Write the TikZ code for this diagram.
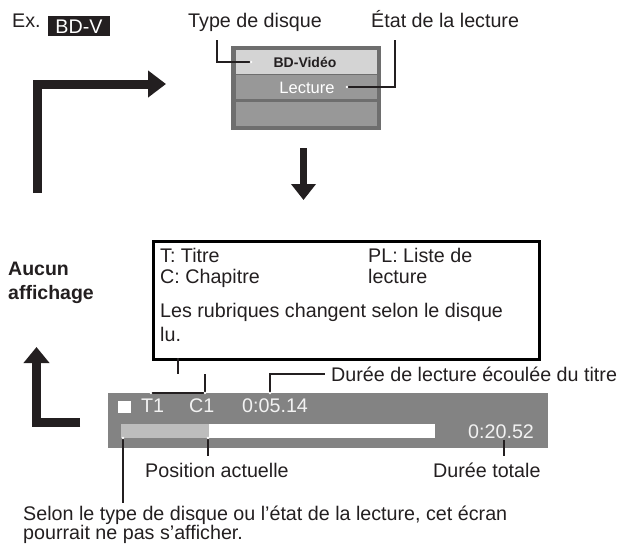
\documentclass[tikz,border=0pt]{standalone}
\usepackage{fontspec}
\setmainfont{Liberation Sans}
\usetikzlibrary{arrows.meta}
\definecolor{ink}{HTML}{231F20}
\definecolor{bargray}{HTML}{838383}
\definecolor{scrdark}{HTML}{6E6E6E}
\definecolor{scrmid}{HTML}{989898}
\definecolor{scrlight}{HTML}{D4D4D4}
\definecolor{progl}{HTML}{BDBDBD}
\definecolor{bartext}{HTML}{F2F2F2}
\begin{document}
\begin{tikzpicture}[x=1pt,y=-1pt,
  lbl/.style={inner sep=0pt, anchor=base west, font=\fontsize{19.7}{21}\selectfont, text=ink},
  bold lbl/.style={lbl, font=\fontsize{19.5}{21}\selectfont\bfseries},
  leader/.style={draw=ink, line width=2pt},
  enddot/.style={fill=white, draw=none},
  bigarrow/.style={draw=ink, line width=9pt, -{Triangle[length=18pt,width=26pt]}},
  midarrow/.style={draw=ink, line width=7pt, -{Triangle[length=16pt,width=24pt]}},
  uparrow/.style={draw=ink, line width=9pt, -{Triangle[length=16pt,width=25pt]}}]
\useasboundingbox (0,0) rectangle (625,547);

% --- top labels
\node[lbl] (ex) at (12,27) {Ex.};
\node[fill=ink, minimum width=62pt, minimum height=20pt, inner sep=0pt, anchor=north west] (bdvbox) at (48,16) {};
\node[lbl, text=white, anchor=base] (bdv) at (79,33.5) {BD-V};
\node[lbl] (type) at (188,27) {Type de disque};
\node[lbl] (etat) at (371,27) {État de la lecture};

% --- small screen
\node[fill=scrdark, minimum width=150pt, minimum height=84pt, inner sep=0pt, anchor=north west] (scr) at (231,46) {};
\fill[scrlight] (236,50) rectangle (377,74);
\fill[scrmid] (236,75) rectangle (377,99);
\fill[scrmid] (236,101.5) rectangle (377,126);
\node[inner sep=0pt, font=\fontsize{14}{16}\selectfont\bfseries, text=ink] (bdvid) at (305,62) {BD-Vidéo};
\node[inner sep=0pt, font=\fontsize{16.5}{18}\selectfont, text=white] (lect) at (307,87.5) {Lecture};

% leaders to small screen
\coordinate (tyA) at (217,40);
\coordinate (tyB) at (251,62);
\draw[leader] (tyA) |- (tyB);
\fill[enddot] (tyB) circle (1.4pt);
\coordinate (etA) at (395,40);
\coordinate (etB) at (347,87);
\draw[leader] (etA) |- (etB);
\fill[enddot] (etB) circle (1.4pt);

% --- big arrows
\coordinate (lA) at (37,193);
\coordinate (lB) at (37,84);
\coordinate (lC) at (166,84);
\draw[bigarrow] (lA) -- (lB) -- (lC);
\coordinate (dA) at (303.5,148);
\coordinate (dB) at (303.5,200);
\draw[midarrow] (dA) -- (dB);
\coordinate (uA) at (80,422);
\coordinate (uB) at (36.5,422);
\coordinate (uC) at (36.5,347);
\draw[uparrow] (uA) -- (uB) -- (uC);

% --- Aucun affichage
\node[bold lbl] (aucun) at (8,275) {Aucun};
\node[bold lbl] (affich) at (8,299) {affichage};

% --- info box
\node[draw=black, line width=3pt, minimum width=386pt, minimum height=118pt, inner sep=0pt, anchor=north west] (info) at (152,240) {};
\node[lbl] (titre) at (160,262) {T: Titre};
\node[lbl] (chap) at (160,283) {C: Chapitre};
\node[lbl] (pl) at (368,262) {PL: Liste de};
\node[lbl] (pl2) at (368,283) {lecture};
\node[lbl] (rub) at (160,317) {Les rubriques changent selon le disque};
\node[lbl] (lu) at (160,341) {lu.};

% --- bar
\node[fill=bargray, minimum width=440pt, minimum height=55pt, inner sep=0pt, anchor=north west] (bar) at (108,393) {};
\fill[white] (118,401) rectangle (131,413);
\node[lbl, text=bartext] (t1) at (141,412) {T1};
\node[lbl, text=bartext] (c1) at (189,412) {C1};
\node[lbl, text=bartext] (el) at (242,412) {0:05.14};
\fill[white] (121,424) rectangle (435,438);
\fill[progl] (121,424) rectangle (209,438);
\node[lbl, text=bartext] (tot) at (468,438) {0:20.52};

% bracket from info box
\coordinate (brA) at (178,358);
\coordinate (brB) at (178,374);
\coordinate (brL) at (151,393);
\coordinate (brR) at (205,393);
\draw[leader] (brA) -- (brB);
\draw[leader] (brL) |- (brR);
\draw[leader] (brR) -- (205,374);
\fill[enddot] (brL) circle (1.4pt);
\fill[enddot] (brR) circle (1.4pt);

% elapsed time leader
\node[lbl] (duree) at (331,381) {Durée de lecture écoulée du titre};
\coordinate (elA) at (270,393);
\coordinate (elB) at (325,374);
\draw[leader] (elA) |- (elB);
\fill[enddot] (elA) circle (1.4pt);

% lower labels
\node[lbl] (pos) at (145,477) {Position actuelle};
\node[lbl] (dtot) at (433,477) {Durée totale};
\coordinate (posA) at (208,438);
\coordinate (posB) at (208,456);
\draw[leader] (posA) -- (posB);
\fill[enddot] (posA) circle (1.4pt);
\coordinate (totA) at (504,440);
\coordinate (totB) at (504,456);
\draw[leader] (totA) -- (totB);
\coordinate (selA) at (123,438);
\coordinate (selB) at (123,503);
\draw[leader] (selA) -- (selB);
\fill[enddot] (selA) circle (1.4pt);

\node[lbl] (sel1) at (23,520) {Selon le type de disque ou l’état de la lecture, cet écran};
\node[lbl] (sel2) at (23,539) {pourrait ne pas s’afficher.};
\end{tikzpicture}
\end{document}
